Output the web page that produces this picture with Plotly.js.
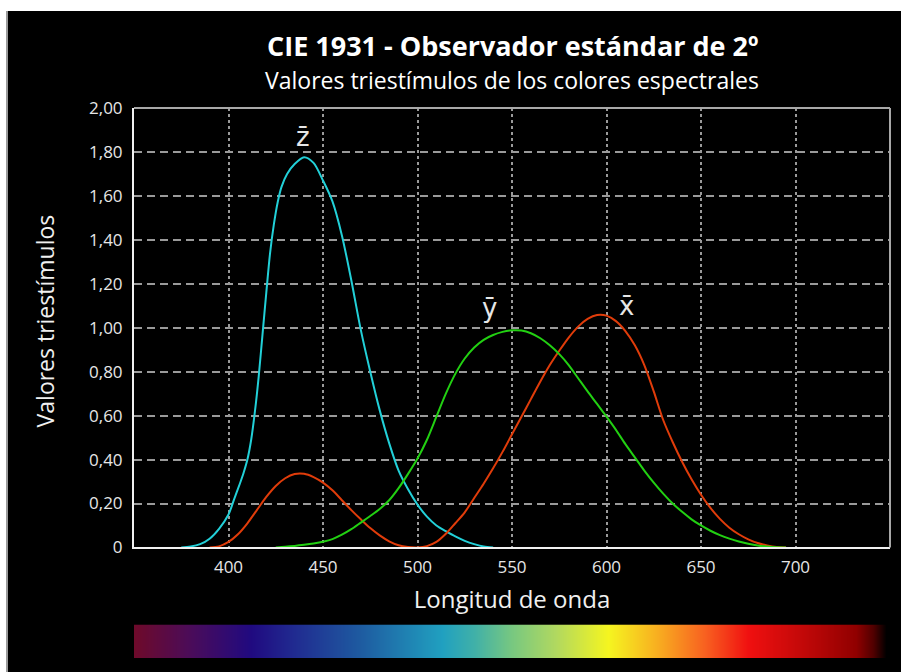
<!DOCTYPE html>
<html>
<head>
<meta charset="utf-8">
<script src="https://cdn.plot.ly/plotly-3.0.1.min.js"></script>
<style>
  html, body { margin: 0; padding: 0; background: #ffffff; width: 901px; height: 672px; overflow: hidden; }
  #edge { position: absolute; left: 6px; top: 11px; width: 2px; height: 661px; background: #9a9a9a; }
  #chart { position: absolute; left: 8px; top: 11px; width: 893px; height: 661px; }
</style>
</head>
<body>
<div id="edge"></div>
<div id="chart"></div>
<script>
// ---- Data ----
const zWavelengths = [375, 380, 385, 390, 395, 400, 403, 406, 408, 410, 412, 414, 416, 418, 420, 422, 424, 426, 428, 431, 435, 440, 445, 450, 455, 460, 465, 470, 475, 480, 485, 490, 495, 500, 505, 510, 515, 520, 525, 530, 535, 540];
const zBar = [0, 0.004, 0.015, 0.04, 0.085, 0.15, 0.22, 0.29, 0.34, 0.40, 0.49, 0.62, 0.78, 0.97, 1.16, 1.34, 1.47, 1.57, 1.64, 1.70, 1.745, 1.776, 1.75, 1.67, 1.575, 1.42, 1.215, 0.99, 0.80, 0.625, 0.475, 0.35, 0.265, 0.195, 0.14, 0.10, 0.074, 0.05, 0.03, 0.015, 0.004, 0];

const xWavelengths = [390, 395, 400, 405, 410, 415, 420, 425, 430, 435, 440, 445, 450, 455, 460, 465, 470, 475, 480, 485, 490, 495, 500, 505, 510, 515, 520, 525, 530, 535, 540, 545, 550, 555, 560, 565, 570, 575, 580, 585, 590, 595, 600, 605, 610, 615, 620, 625, 630, 635, 640, 645, 650, 655, 660, 665, 670, 675, 680, 685, 690, 695];
const xBar = [0, 0.005, 0.025, 0.06, 0.11, 0.17, 0.23, 0.28, 0.315, 0.334, 0.335, 0.32, 0.295, 0.26, 0.215, 0.17, 0.128, 0.088, 0.055, 0.028, 0.01, 0.002, 0, 0.006, 0.025, 0.062, 0.11, 0.16, 0.225, 0.29, 0.36, 0.435, 0.515, 0.595, 0.675, 0.755, 0.83, 0.895, 0.955, 1.005, 1.04, 1.058, 1.055, 1.03, 0.985, 0.92, 0.83, 0.71, 0.58, 0.48, 0.39, 0.31, 0.24, 0.18, 0.13, 0.09, 0.06, 0.037, 0.02, 0.009, 0.002, 0];

const yWavelengths = [425, 430, 435, 440, 445, 450, 455, 460, 465, 470, 475, 480, 485, 490, 495, 500, 505, 510, 515, 520, 525, 530, 535, 540, 545, 550, 555, 560, 565, 570, 575, 580, 585, 590, 595, 600, 605, 610, 615, 620, 625, 630, 635, 640, 645, 650, 655, 660, 665, 670, 675, 680, 685, 690, 695];
const yBar = [0, 0.003, 0.007, 0.012, 0.018, 0.026, 0.038, 0.058, 0.083, 0.113, 0.143, 0.175, 0.215, 0.27, 0.335, 0.405, 0.49, 0.595, 0.70, 0.79, 0.86, 0.91, 0.945, 0.967, 0.981, 0.988, 0.987, 0.975, 0.952, 0.92, 0.88, 0.83, 0.77, 0.71, 0.653, 0.595, 0.535, 0.47, 0.41, 0.35, 0.295, 0.245, 0.20, 0.162, 0.128, 0.10, 0.076, 0.056, 0.04, 0.027, 0.017, 0.009, 0.004, 0.001, 0];

const xTickVals = [400, 450, 500, 550, 600, 650, 700];
const xTickText = ['400', '450', '500', '550', '600', '650', '700'];
const yTickVals = [0, 0.2, 0.4, 0.6, 0.8, 1.0, 1.2, 1.4, 1.6, 1.8, 2.0];
const yTickText = ['0', '0,20', '0,40', '0,60', '0,80', '1,00', '1,20', '1,40', '1,60', '1,80', '2,00'];

// Spectrum strip stops (wavelength -> colour)
const specNm = [350, 380, 412, 434, 469, 513, 530, 550, 573, 601, 626, 652, 675, 705, 732, 741, 748, 750];
const specColors = ['#6e0a2a', '#4a0c5a', '#200a80', '#202a90', '#1e5aa0', '#20a0c0', '#40b0a8', '#78c880', '#b0d860', '#f5f520', '#f8b020', '#f86020', '#f01010', '#c00808', '#900000', '#500000', '#000000', '#000000'];

const FONT = 'Open Sans, Noto Sans, sans-serif';
const nmMin = specNm[0], nmMax = specNm[specNm.length - 1];
const specScale = specNm.map((v, i) => [(v - nmMin) / (nmMax - nmMin), specColors[i]]);

const traces = [
  { x: zWavelengths, y: zBar, type: 'scatter', mode: 'lines', line: { color: '#22d0d8', width: 2, shape: 'spline', smoothing: 0.8 }, name: 'z', hoverinfo: 'x+y' },
  { x: xWavelengths, y: xBar, type: 'scatter', mode: 'lines', line: { color: '#e03c0a', width: 2, shape: 'spline', smoothing: 0.8 }, name: 'x', hoverinfo: 'x+y' },
  { x: yWavelengths, y: yBar, type: 'scatter', mode: 'lines', line: { color: '#22d012', width: 2, shape: 'spline', smoothing: 0.8 }, name: 'y', hoverinfo: 'x+y' },
  { type: 'heatmap', x: specNm, y: [0, 1], z: [specNm, specNm], xaxis: 'x2', yaxis: 'y2',
    colorscale: specScale, zmin: nmMin, zmax: nmMax, zsmooth: 'best', showscale: false, hoverinfo: 'skip' }
];

const layout = {
  width: 893, height: 661,
  paper_bgcolor: '#000000', plot_bgcolor: '#000000',
  margin: { l: 126, r: 11, t: 97, b: 14 },
  showlegend: false,
  font: { family: FONT, color: '#e6e6e6', size: 17 },
  xaxis: {
    domain: [0, 1], anchor: 'y', range: [350, 750],
    tickvals: xTickVals, ticktext: xTickText,
    showgrid: true, gridcolor: '#9a9a9a', gridwidth: 2, griddash: '3px,3px',
    zeroline: false, showline: true, linecolor: '#f0f0f0', linewidth: 2,
    ticks: '', ticklabelstandoff: 3,
    tickfont: { family: FONT, size: 17, color: '#e6e6e6' },
    title: { text: 'Longitud de onda', font: { family: FONT, size: 24, color: '#f0f0f0' }, standoff: 14 }
  },
  yaxis: {
    domain: [0.201, 1], anchor: 'x', range: [0, 2],
    tickvals: yTickVals, ticktext: yTickText,
    showgrid: true, gridcolor: '#9a9a9a', gridwidth: 2, griddash: '8px,5px',
    zeroline: false, showline: true, linecolor: '#f0f0f0', linewidth: 2,
    ticks: '', ticklabelstandoff: 6,
    tickfont: { family: FONT, size: 17, color: '#e6e6e6' }
  },
  xaxis2: { domain: [0, 1], anchor: 'y2', range: [350, 750], visible: false, fixedrange: true },
  yaxis2: { domain: [0, 0.061], anchor: 'x2', range: [0, 1], visible: false, fixedrange: true },
  shapes: [
    { type: 'line', xref: 'paper', yref: 'paper', x0: 0, x1: 1, y0: 1, y1: 1, line: { color: '#a8a8a8', width: 2 } },
    { type: 'line', xref: 'paper', yref: 'paper', x0: 1, x1: 1, y0: 0.201, y1: 1, line: { color: '#a8a8a8', width: 2 } }
  ],
  annotations: [
    { text: '<b>CIE 1931 - Observador estándar de 2º</b>', xref: 'paper', yref: 'paper', x: 0.5, y: 1.1136, showarrow: false,
      font: { family: FONT, size: 27, color: '#ffffff' }, xanchor: 'center', yanchor: 'middle' },
    { text: 'Valores triestímulos de los colores espectrales', xref: 'paper', yref: 'paper', x: 0.5, y: 1.0518, showarrow: false,
      font: { family: FONT, size: 23, color: '#ffffff' }, xanchor: 'center', yanchor: 'middle' },
    { text: 'Valores triestímulos', xref: 'paper', yref: 'paper', x: -0.1177, y: 0.612, showarrow: false, textangle: -90,
      font: { family: FONT, size: 23, color: '#f0f0f0' }, xanchor: 'center', yanchor: 'middle' },
    { text: 'z\u0304', xref: 'x', yref: 'y', x: 439.5, y: 1.87, showarrow: false, font: { family: 'DejaVu Sans, sans-serif', size: 26, color: '#e6e6e6' } },
    { text: 'y\u0304', xref: 'x', yref: 'y', x: 538, y: 1.09, showarrow: false, font: { family: 'DejaVu Sans, sans-serif', size: 26, color: '#e6e6e6' } },
    { text: 'x\u0304', xref: 'x', yref: 'y', x: 610.5, y: 1.10, showarrow: false, font: { family: 'DejaVu Sans, sans-serif', size: 26, color: '#e6e6e6' } }
  ]
};

Plotly.newPlot('chart', traces, layout, { displayModeBar: false, staticPlot: true });
</script>
</body>
</html>
